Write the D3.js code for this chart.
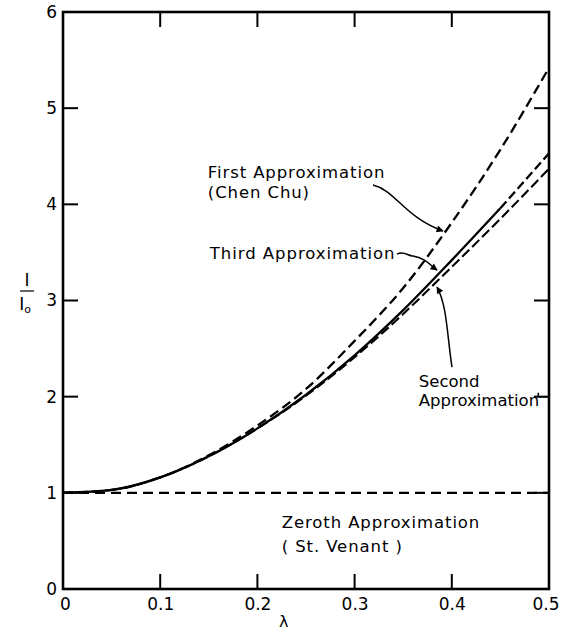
<!DOCTYPE html>
<html>
<head>
<meta charset="utf-8">
<script src="https://cdn.jsdelivr.net/npm/d3@7/dist/d3.min.js"></script>
<style>
  html, body { margin: 0; padding: 0; background: #fff; }
  svg { display: block; }
  text { font-family: "DejaVu Sans", sans-serif; fill: #000; }
</style>
</head>
<body>
<svg id="chart" width="561" height="632"></svg>
<script>
// ---- data ----
const lambda = [0, 0.05, 0.1, 0.15, 0.2, 0.25, 0.3, 0.35, 0.4, 0.45, 0.5];
const firstApprox  = [1, 1.03, 1.16, 1.39, 1.70, 2.08, 2.58, 3.13, 3.81, 4.57, 5.42];
const secondApprox = [1, 1.03, 1.16, 1.38, 1.67, 2.01, 2.41, 2.86, 3.35, 3.85, 4.37];
const thirdApprox  = [1, 1.03, 1.16, 1.38, 1.67, 2.02, 2.43, 2.90, 3.42, 3.96, 4.53];
const zerothApprox = [1, 1, 1, 1, 1, 1, 1, 1, 1, 1, 1];
const thirdSolidEnd = 0.45;   // third approximation drawn dashed beyond this
const xTicks = [0, 0.1, 0.2, 0.3, 0.4, 0.5];
const xTickLabels = ["0", "0.1", "0.2", "0.3", "0.4", "0.5"];
const yTicks = [0, 1, 2, 3, 4, 5, 6];
const yTickLabels = ["0", "1", "2", "3", "4", "5", "6"];

// ---- layout ----
const svg = d3.select("#chart");
const x = d3.scaleLinear().domain([0, 0.5]).range([63, 549]);
const y = d3.scaleLinear().domain([0, 6]).range([589, 12]);
const TICK = 15;

// frame
svg.append("rect")
  .attr("x", x(0)).attr("y", y(6))
  .attr("width", x(0.5) - x(0)).attr("height", y(0) - y(6))
  .attr("fill", "none").attr("stroke", "#000").attr("stroke-width", 2.6);

// axes with inward ticks
const inner = xTicks.slice(1, -1);
const innerY = yTicks.slice(1, -1);
const gB = svg.append("g").attr("transform", `translate(0,${y(0)})`)
  .call(d3.axisBottom(x).tickValues(xTicks).tickSizeInner(0).tickSizeOuter(0)
        .tickFormat((d, i) => xTickLabels[i]).tickPadding(9));
gB.select(".domain").remove();
gB.selectAll("text").attr("font-size", 17).attr("font-family", "DejaVu Sans")
  .attr("dx", d => d === 0.5 ? -1 : (d === 0 ? 2 : 0))
  .attr("text-anchor", d => d === 0.5 ? "end" : "middle")
  .attr("x", d => d === 0.5 ? 11 : 0);

const gL = svg.append("g").attr("transform", `translate(${x(0)},0)`)
  .call(d3.axisLeft(y).tickValues(yTicks).tickSizeInner(0).tickSizeOuter(0)
        .tickFormat((d, i) => yTickLabels[i]).tickPadding(6));
gL.select(".domain").remove();
gL.selectAll("text").attr("font-size", 17).attr("font-family", "DejaVu Sans");

const tickStroke = 2;
[[y(0), -1], [y(6), 1]].forEach(([yy, dir]) => {
  svg.append("g").selectAll("line").data(inner).join("line")
    .attr("x1", d => x(d)).attr("x2", d => x(d))
    .attr("y1", yy).attr("y2", yy + dir * TICK)
    .attr("stroke", "#000").attr("stroke-width", tickStroke);
});
[[x(0), 1], [x(0.5), -1]].forEach(([xx, dir]) => {
  svg.append("g").selectAll("line").data(innerY).join("line")
    .attr("y1", d => y(d)).attr("y2", d => y(d))
    .attr("x1", xx).attr("x2", xx + dir * TICK)
    .attr("stroke", "#000").attr("stroke-width", tickStroke);
});

// ---- curves ----
const line = d3.line().x(d => x(d[0])).y(d => y(d[1])).curve(d3.curveMonotoneX);
const pts = arr => lambda.map((l, i) => [l, arr[i]]);

svg.append("path").datum(pts(zerothApprox)).attr("d", line)
  .attr("fill", "none").attr("stroke", "#000").attr("stroke-width", 2.3)
  .attr("stroke-dasharray", "10,6");

svg.append("path").datum(pts(firstApprox)).attr("d", line)
  .attr("fill", "none").attr("stroke", "#000").attr("stroke-width", 2.3)
  .attr("stroke-dasharray", "10,5");

svg.append("path").datum(pts(secondApprox)).attr("d", line)
  .attr("fill", "none").attr("stroke", "#000").attr("stroke-width", 2.1)
  .attr("stroke-dasharray", "10,4");

const third = pts(thirdApprox);
svg.append("path").datum(third.filter(d => d[0] <= thirdSolidEnd)).attr("d", line)
  .attr("fill", "none").attr("stroke", "#000").attr("stroke-width", 2.3);
svg.append("path").datum(third.filter(d => d[0] >= thirdSolidEnd)).attr("d", line)
  .attr("fill", "none").attr("stroke", "#000").attr("stroke-width", 2.3)
  .attr("stroke-dasharray", "9,4");

// ---- annotations ----
const defs = svg.append("defs");
defs.append("marker").attr("id", "ah").attr("viewBox", "0 0 10 10")
  .attr("refX", 9).attr("refY", 5).attr("markerWidth", 9).attr("markerHeight", 7)
  .attr("markerUnits", "userSpaceOnUse").attr("orient", "auto")
  .append("path").attr("d", "M0,0 L10,5 L0,10 z").attr("fill", "#000");

function arrowPath(p) {
  const q = p.map(d => [x(d[0]), y(d[1])]);
  let s = `M${q[0]}`;
  for (let i = 1; i < q.length; i += 3) s += ` C${q[i]} ${q[i+1]} ${q[i+2]}`;
  return s;
}
const firstArrow  = [[0.3189, 4.201], [0.3416, 4.149], [0.3519, 3.861], [0.3909, 3.723]];
const thirdArrow  = [[0.3436, 3.483], [0.3510, 3.52], [0.3550, 3.46], [0.3601, 3.463],
                     [0.3724, 3.442], [0.3776, 3.369], [0.3848, 3.317]];
const secondArrow = [[0.4002, 2.308], [0.3951, 2.641], [0.3951, 2.953], [0.3848, 3.140]];
[firstArrow, thirdArrow, secondArrow].forEach(a => {
  svg.append("path").attr("d", arrowPath(a)).attr("fill", "none")
    .attr("stroke", "#000").attr("stroke-width", 1.5).attr("marker-end", "url(#ah)");
});
// short leader after "Approximation" (second)
svg.append("path")
  .attr("d", `M${x(0.489)},${y(2.0)} L${x(0.499)},${y(2.0)} M${x(0.489)},${y(2.0)} L${x(0.489)},${y(2.04)}`)
  .attr("fill", "none").attr("stroke", "#000").attr("stroke-width", 1.5);

const labels = [
  { t: "First Approximation", l: 0.149, v: 4.27, ls: 0.9 },
  { t: "(Chen Chu)",          l: 0.149, v: 4.07, ls: 0.9 },
  { t: "Third Approximation", l: 0.151, v: 3.43, ls: 0.95 },
  { t: "Second",              l: 0.366, v: 2.10, ls: 0 },
  { t: "Approximation",       l: 0.366, v: 1.90, ls: 0 },
  { t: "Zeroth Approximation",l: 0.225, v: 0.63, ls: 0.9 },
  { t: "( St. Venant )",      l: 0.225, v: 0.38, ls: 0.9 }
];
svg.append("g").selectAll("text").data(labels).join("text")
  .attr("x", d => x(d.l)).attr("y", d => y(d.v))
  .attr("font-size", 16.5).attr("letter-spacing", d => d.ls)
  .text(d => d.t);

// axis titles
svg.append("text").attr("x", x(0.227)).attr("y", 627).attr("font-size", 16)
  .attr("text-anchor", "middle").text("λ");
const yl = svg.append("g").attr("transform", "translate(27,0)");
yl.append("text").attr("x", 0).attr("y", 286).attr("text-anchor", "middle")
  .attr("font-size", 17).attr("font-family", "DejaVu Serif").text("I");
yl.append("line").attr("x1", -7).attr("x2", 7).attr("y1", 291).attr("y2", 291)
  .attr("stroke", "#000").attr("stroke-width", 1.2);
const t2 = yl.append("text").attr("x", -2).attr("y", 310).attr("text-anchor", "middle")
  .attr("font-size", 17).attr("font-family", "DejaVu Serif");
t2.append("tspan").text("I");
t2.append("tspan").attr("font-size", 11).attr("dy", 3).attr("font-family", "DejaVu Sans").text("o");
</script>
</body>
</html>
